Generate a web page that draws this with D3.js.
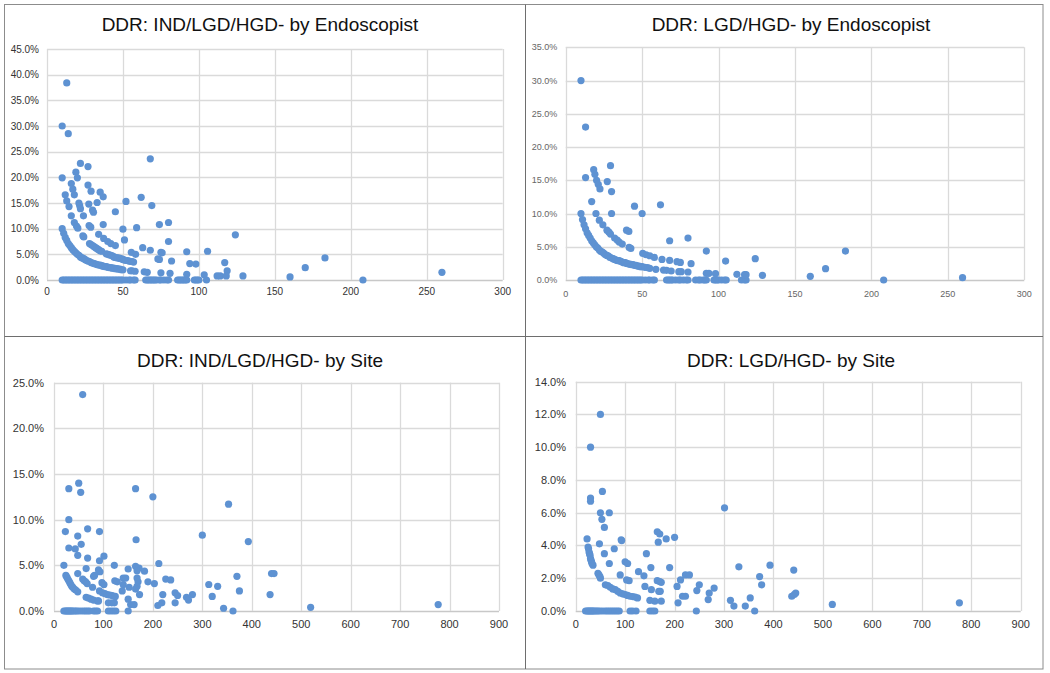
<!DOCTYPE html>
<html><head><meta charset="utf-8">
<script src="https://cdn.jsdelivr.net/npm/d3@7"></script>
<style>html,body{margin:0;padding:0;background:#fff;}svg{display:block;}</style>
</head><body><svg id="c" width="1050" height="673"></svg>
<script>
// ---------- DATA (percent values) ----------
const titles = ["DDR: IND/LGD/HGD- by Endoscopist","DDR: LGD/HGD- by Endoscopist","DDR: IND/LGD/HGD- by Site","DDR: LGD/HGD- by Site"];
const endoXTicks = [0,50,100,150,200,250,300];
const siteXTicks = [0,100,200,300,400,500,600,700,800,900];
const endoAllYTicks = [0,5,10,15,20,25,30,35,40,45];
const endoLgdYTicks = [0,5,10,15,20,25,30,35];
const siteAllYTicks = [0,5,10,15,20,25];
const siteLgdYTicks = [0,2,4,6,8,10,12,14];

// Panel 1: IND/LGD/HGD by endoscopist
const endoAllZeroX = [10,11,12,13,14,15,16,17,18,19,20,21,22,23,24,25,26,27,28,29,30,31,32,33,34,35,36,37,38,39,40,41,42,43,44,45,46,47,48,49,50,52,54,55,57,58,65,66,67,68,69,70,71,72,74,75,77,79,80,86,87,88,89,90,91,92,97,98,99,100,105,208];
const endoAllX = [10,11,12,13,14,15,16,17,18,19,20,21,22,23,24,25,26,27,28,29,30,31,32,33,34,35,36,37,38,39,40,41,42,43,44,45,46,47,48,49,50,55,56,58,
  28,29,30,31,32,33,34,35,36,39,40,41,42,43,44,45,46,47,48,49,50,51,52,53,54,55,56,57,
  13,10,14,68,22,27,19,20,10,27,16,17,18,12,29,35,37,62,13,21,21.5,14.5,27.5,33,52,69,22,30,30.6,45,16,24,18,19.4,20.3,27.7,28.8,37,50,59,74,80,23.6,24.2,34,37.3,40,42,45,51,63,68,80,124,105.7,92,55.5,58.3,75,75.8,73,74,82,94,98,117,118.6,64,66,75,81,92,103.5,112,114,118,129,160,170,183,260];
const endoAllY = [10,9.1,8.3,7.7,7.1,6.7,6.3,5.9,5.6,5.3,5,4.8,4.5,4.3,4.2,4,3.8,3.7,3.6,3.4,3.3,3.2,3.1,3,2.9,2.9,2.8,2.7,2.6,2.6,2.5,2.4,2.4,2.3,2.3,2.2,2.2,2.1,2.1,2,2,1.8,1.8,1.7,
  7.1,6.9,6.7,6.5,6.3,6.1,5.9,5.7,5.6,5.1,5,4.9,4.8,4.7,4.5,4.4,4.3,4.3,4.2,4.1,4,3.9,3.8,3.8,3.7,3.6,3.6,3.5,
  38.4,30,28.5,23.6,22.7,22.1,21,19.9,19.9,18.5,18.8,17.7,16.6,16.6,17.3,17.1,16.2,16.1,15.4,15,14.5,14.3,14.8,15.1,15.3,14.5,13.9,13.6,13.2,13.3,12.5,12.5,11.2,10.5,10.1,10.6,10.3,10.8,9.9,10.2,10.8,11.2,8.6,8.4,8.9,8.1,7.5,7.1,6.7,7.8,6.3,5.8,7.5,8.8,5.6,5.5,5.4,5,5.4,5.3,4.1,4,3.7,3.2,3.1,3.4,1.8,1.6,1.5,1.4,1.3,1.1,1,0.8,0.8,0.8,0.8,0.6,2.4,4.3,1.5];

// Panel 2: LGD/HGD by endoscopist
const endoLgdZeroX = [10,11,12,13,14,15,16,17,18,19,20,21,22,23,24,25,26,27,28,29,30,31,32,33,34,35,36,37,38,39,40,41,42,43,44,45,46,47,48,49,50,52,54,55,57,58,66,67,68,69,70,72,74,75,77,79,80,85,87,88,90,91,92,97,98,99,100,102,104,105,115,117,118,208];
const endoLgdX = [10,11,12,13,14,15,16,17,18,19,20,21,22,23,24,25,26,27,28,29,30,31,32,33,34,35,36,37,38,39,40,41,42,43,44,45,46,47,48,49,50,
  51.7,53.5,55,59,64,66,69,74,75.6,80,92,93.7,98,112,117,118,128.7,160,259.6,
  10,13,29.3,18.3,19.1,20.2,21.3,22.4,13,27.2,30,17,45,62,19.8,30,50,22,24.3,27,28.3,29.3,39.8,41.3,68,80,41.5,42.6,92,183,50.4,52.6,55,58,63,68,72.8,75,82,104.6,124,170,32,33.7,35,37];
const endoLgdY = [10,9.1,8.3,7.7,7.1,6.7,6.3,5.9,5.6,5.3,5,4.8,4.5,4.3,4.2,4,3.8,3.7,3.6,3.4,3.3,3.2,3.1,3,2.9,2.9,2.8,2.7,2.6,2.6,2.5,2.4,2.4,2.3,2.3,2.2,2.2,2.1,2.1,2,2,
  1.9,1.85,1.75,1.6,1.5,1.45,1.35,1.25,1.25,1.2,1,1,0.95,0.85,0.8,0.8,0.7,0.55,0.35,
  30,23,17.2,16.6,15.9,15,14.4,13.7,15.4,14.8,13.3,11.8,11.1,11.3,10,10,10,9,8.3,7.5,7.2,6.9,7.5,7.3,5.9,6.3,4.9,4.75,4.35,4.35,4,3.8,3.65,3.4,3.1,2.95,2.75,2.65,2.45,2.85,3.2,1.7,6.3,6,5.7,5.4];

// Panel 3: IND/LGD/HGD by site
const siteAllZeroX = [20,23,25,27,29,31,33,35,37,40,43,46,50,55,60,64,68,72,80,84,88,110,115,120,125,150,362];
const siteAllX = [58,50,30,54,165,200,353,30,68,23,92,48,300,393,166,30,43,55,48,68,101,92,20,122,212,48,65,90,93,150,165,172,168,183,80,82,370,440,445,
  24,26,28,30,32,34,36,38,41,44,48,
  58,61,64,67,78,97,101,123,128,140,145,140,152,168,170,168,165,173,190,203,226,236,138,
  92,98,103,108,113,118,124,65,70,75,80,88,90,110,117,122,150,155,162,220,210,218,245,250,245,268,272,280,313,331,320,343,375,437,519,777];
const siteAllY = [23.7,14,13.4,13,13.4,12.5,11.7,10,9,8.7,8.7,8.2,8.3,7.6,7.8,6.9,6.8,7.3,6.1,5.8,6,5.5,5,5,5.2,4.1,4.65,4.5,4.3,4.6,4.9,4.7,4.4,4.36,3.8,3.9,3.8,4.1,4.1,
  3.9,3.7,3.5,3.3,3.1,2.9,2.7,2.6,2.4,2.3,2.1,
  3.5,3.3,3.2,3,2.6,3.1,2.9,3.3,3.2,3.6,3.6,2.9,2.6,3.6,3.2,2.7,2.4,1.8,3.2,3,3.5,3.4,2.2,
  2.2,2,1.9,1.8,1.75,1.7,1.6,1.5,1.4,1.3,1.2,1.1,1.1,0.9,0.9,0.9,1.3,0.7,0.7,1.8,0.6,0.9,2,1.7,0.9,1.5,1.2,1.8,2.9,2.7,1.6,0.3,2.2,1.8,0.4,0.7];

// Panel 4: LGD/HGD by site
const siteLgdZeroX = [20,23,25,27,29,31,33,35,37,40,43,46,50,55,60,64,68,72,76,80,84,88,110,115,122,150,155,160,244,362];
const siteLgdX = [50,30,54,30,30,50,68,53,58,301,165,170,183,200,167,23,48,92,93,
  25,26,27,28,29,30,31,32,33,35,
  78,58,143,68,100,105,152,190,330,393,441,45,47,49,50,90,127,138,222,230,103,108,165,170,173,205,212,250,280,372,376,140,
  60,65,70,75,80,85,90,95,100,105,110,115,120,125,
  153,168,171,245,270,268,150,160,173,207,216,222,313,320,343,353,437,442,445,519,776];
const siteLgdY = [12,10,7.3,6.9,6.7,6,6,5.6,5.1,6.3,4.84,4.7,4.4,4.5,4.2,4.4,4.1,4.35,4.3,
  3.9,3.8,3.6,3.5,3.4,3.2,3.1,3,2.9,2.8,
  3.8,3.5,3.5,2.9,3,2.9,2.65,2.65,2.7,2.8,2.5,2.3,2.2,2.1,2,2.2,2.4,2.15,2.2,2.2,1.9,1.85,1.85,1.8,1.75,1.5,1.9,1.6,1.4,2.1,1.6,1.5,
  1.6,1.55,1.45,1.35,1.3,1.2,1.1,1.05,1,0.95,0.9,0.88,0.85,0.8,
  1.3,1.2,1.2,1.25,1.1,0.7,0.65,0.6,0.6,0.5,0.9,0.9,0.65,0.3,0.3,0.8,0.9,1,1.1,0.4,0.5];

// ---------- DRAW ----------
const svg = d3.select("#c");
const dotColor = "#5e92d2";

// frame
svg.append("rect").attr("x",4.5).attr("y",4.5).attr("width",1038.5).attr("height",664.5)
  .attr("fill","none").attr("stroke","#8c8c8c").attr("stroke-width",1);
svg.append("line").attr("x1",525.5).attr("x2",525.5).attr("y1",4.5).attr("y2",669)
  .attr("stroke","#6e6e6e");
svg.append("line").attr("x1",4.5).attr("x2",1043).attr("y1",336.5).attr("y2",336.5)
  .attr("stroke","#6e6e6e");

const panels = [
  {title:titles[0], tx:260, ty:31, x0:47, x1:502.7, yb:280, yt:49, xmax:300, ymax:45, xt:endoXTicks, yt_:endoAllYTicks, zx:endoAllZeroX, px:endoAllX, py:endoAllY, fs:10, col:"#333", xlab:295, ygap:8},
  {title:titles[1], tx:791, ty:31, x0:565.7, x1:1024.3, yb:280, yt:47.3, xmax:300, ymax:35, xt:endoXTicks, yt_:endoLgdYTicks, zx:endoLgdZeroX, px:endoLgdX, py:endoLgdY, fs:9, col:"#666", xlab:296.5, ygap:8.5},
  {title:titles[2], tx:260, ty:367, x0:54, x1:499, yb:611, yt:382.7, xmax:900, ymax:25, xt:siteXTicks, yt_:siteAllYTicks, zx:siteAllZeroX, px:siteAllX, py:siteAllY, fs:11, col:"#333", xlab:627.5, ygap:10},
  {title:titles[3], tx:791, ty:367, x0:575.7, x1:1020.7, yb:611, yt:381.7, xmax:900, ymax:14, xt:siteXTicks, yt_:siteLgdYTicks, zx:siteLgdZeroX, px:siteLgdX, py:siteLgdY, fs:11, col:"#333", xlab:628, ygap:9.7}
];

panels.forEach(p => {
  const g = svg.append("g");
  const x = d3.scaleLinear().domain([0,p.xmax]).range([p.x0,p.x1]);
  const y = d3.scaleLinear().domain([0,p.ymax]).range([p.yb,p.yt]);
  g.append("text").attr("x",p.tx).attr("y",p.ty).attr("text-anchor","middle")
    .attr("font-family","Liberation Sans, Arial, sans-serif").attr("font-size",19).attr("fill","#111")
    .text(p.title);
  // grid
  g.selectAll(".hg").data(p.yt_).join("line")
    .attr("x1",p.x0).attr("x2",p.x1).attr("y1",d=>Math.round(y(d))+0.5).attr("y2",d=>Math.round(y(d))+0.5)
    .attr("stroke",d=>d===0?"#c8c8c8":"#dadada").attr("stroke-width",1.3);
  g.selectAll(".vg").data(p.xt).join("line")
    .attr("y1",p.yt).attr("y2",p.yb).attr("x1",d=>Math.round(x(d))+0.5).attr("x2",d=>Math.round(x(d))+0.5)
    .attr("stroke","#dadada").attr("stroke-width",1.3);
  // y labels
  g.selectAll(".yl").data(p.yt_).join("text")
    .attr("x",p.x0-p.ygap).attr("y",d=>y(d)).attr("dy","0.35em").attr("text-anchor","end")
    .attr("font-family","Liberation Sans, Arial, sans-serif").attr("font-size",p.fs).attr("fill",p.col)
    .text(d=>d3.format(".1f")(d)+"%");
  g.selectAll(".xl").data(p.xt).join("text")
    .attr("x",d=>x(d)).attr("y",p.xlab).attr("text-anchor","middle")
    .attr("font-family","Liberation Sans, Arial, sans-serif").attr("font-size",p.fs).attr("fill",p.col)
    .text(d=>d);
  // points
  const pts = p.zx.map(v=>[v,0]).concat(p.px.map((v,i)=>[v,p.py[i]]));
  g.selectAll(".pt").data(pts).join("circle")
    .attr("cx",d=>x(d[0])).attr("cy",d=>y(d[1])).attr("r",3.6).attr("fill",dotColor);
});
</script></body></html>
